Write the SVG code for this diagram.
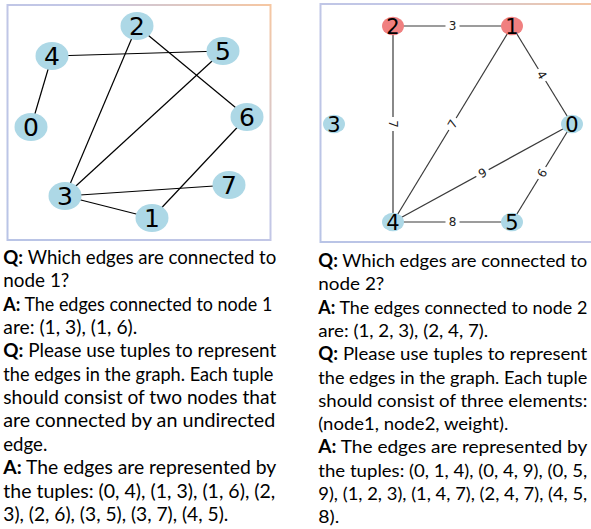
<svg xmlns="http://www.w3.org/2000/svg" width="591" height="529" viewBox="0 0 591 529">
<defs>
<linearGradient id="bl" gradientUnits="userSpaceOnUse" x1="7" y1="240" x2="270" y2="5">
<stop offset="0" stop-color="#b9c4e6"/><stop offset="0.6" stop-color="#c3c7e6"/><stop offset="1" stop-color="#f6c7a2"/>
</linearGradient>
<linearGradient id="br" gradientUnits="userSpaceOnUse" x1="320" y1="242" x2="600" y2="4">
<stop offset="0" stop-color="#b9c4e6"/><stop offset="0.6" stop-color="#c3c7e6"/><stop offset="1" stop-color="#f6c7a2"/>
</linearGradient>
<style>
.ledge{stroke:#000;stroke-width:1.2;fill:none}
.redge{stroke:#3a3a3a;stroke-width:1.2;fill:none}
.nb{fill:#add8e6}
.nr{fill:#f08080}
.ll{font-family:"DejaVu Sans",sans-serif;font-size:25px;text-anchor:middle;fill:#000}
.rl{font-family:"DejaVu Sans",sans-serif;font-size:21px;text-anchor:middle;fill:#000}
.el{font-family:"DejaVu Sans",sans-serif;font-size:12px;text-anchor:middle;fill:#222}
.eb{fill:#fff}
.tx{font-family:Lato,"Open Sans",sans-serif;font-size:19px;fill:#000}
.tr{font-size:18px}
.b{font-weight:bold}
</style>
</defs>
<rect x="0" y="0" width="591" height="529" fill="#fff"/>
<rect x="7.5" y="5" width="263" height="235" fill="none" stroke="url(#bl)" stroke-width="2"/>
<rect x="320.5" y="4" width="280" height="238" fill="none" stroke="url(#br)" stroke-width="2"/>
<g id="connectors">
<line class="ledge" x1="52" y1="56" x2="31" y2="127"/>
<line class="ledge" x1="52" y1="56" x2="223" y2="51"/>
<line class="ledge" x1="137" y1="26" x2="65" y2="196"/>
<line class="ledge" x1="137" y1="26" x2="247" y2="117"/>
<line class="ledge" x1="223" y1="51" x2="65" y2="196"/>
<line class="ledge" x1="247" y1="117" x2="152" y2="218"/>
<line class="ledge" x1="65" y1="196" x2="229" y2="185"/>
<line class="ledge" x1="65" y1="196" x2="152" y2="218"/>
<line class="redge" x1="393" y1="26" x2="512" y2="26"/>
<line class="redge" x1="512" y1="26" x2="572" y2="124"/>
<line class="redge" x1="393" y1="26" x2="393" y2="222"/>
<line class="redge" x1="512" y1="26" x2="393" y2="222"/>
<line class="redge" x1="572" y1="124" x2="393" y2="222"/>
<line class="redge" x1="572" y1="124" x2="512" y2="222"/>
<line class="redge" x1="393" y1="222" x2="512" y2="222"/>
<g transform="translate(452.5,26)"><rect class="eb" x="-7" y="-7" width="14" height="14"/><text class="el" x="0" y="4.3">3</text></g>
<g transform="translate(542,75) rotate(58.5)"><rect class="eb" x="-7" y="-7" width="14" height="14"/><text class="el" x="0" y="4.3">4</text></g>
<g transform="translate(393,124) rotate(90)"><rect class="eb" x="-7" y="-7" width="14" height="14"/><text class="el" x="0" y="4.3">7</text></g>
<g transform="translate(452.5,124) rotate(-59)"><rect class="eb" x="-7" y="-7" width="14" height="14"/><text class="el" x="0" y="4.3">7</text></g>
<g transform="translate(482.5,173) rotate(-28.7)"><rect class="eb" x="-7" y="-7" width="14" height="14"/><text class="el" x="0" y="4.3">9</text></g>
<g transform="translate(542,173) rotate(121)"><rect class="eb" x="-7" y="-7" width="14" height="14"/><text class="el" x="0" y="4.3">9</text></g>
<g transform="translate(452.5,222)"><rect class="eb" x="-7" y="-7" width="14" height="14"/><text class="el" x="0" y="4.3">8</text></g>
</g>
<g id="L0"><ellipse class="nb" cx="31" cy="127" rx="16.5" ry="14"/><text class="ll" x="31" y="136">0</text></g>
<g id="L1"><ellipse class="nb" cx="152" cy="218" rx="16.5" ry="14"/><text class="ll" x="152" y="227">1</text></g>
<g id="L2"><ellipse class="nb" cx="137" cy="26" rx="16.5" ry="14"/><text class="ll" x="137" y="35">2</text></g>
<g id="L3"><ellipse class="nb" cx="65" cy="196" rx="16.5" ry="14"/><text class="ll" x="65" y="205">3</text></g>
<g id="L4"><ellipse class="nb" cx="52" cy="56" rx="16.5" ry="14"/><text class="ll" x="52" y="65">4</text></g>
<g id="L5"><ellipse class="nb" cx="223" cy="51" rx="16.5" ry="14"/><text class="ll" x="223" y="60">5</text></g>
<g id="L6"><ellipse class="nb" cx="247" cy="117" rx="16.5" ry="14"/><text class="ll" x="247" y="126">6</text></g>
<g id="L7"><ellipse class="nb" cx="229" cy="185" rx="16.5" ry="14"/><text class="ll" x="229" y="194">7</text></g>
<g id="R0"><ellipse class="nb" cx="572" cy="124" rx="11" ry="9.3"/><text class="rl" x="572" y="131.6">0</text></g>
<g id="R1"><ellipse class="nr" cx="512" cy="26" rx="11" ry="9.3"/><text class="rl" x="512" y="33.6">1</text></g>
<g id="R2"><ellipse class="nr" cx="393" cy="26" rx="11" ry="9.3"/><text class="rl" x="393" y="33.6">2</text></g>
<g id="R3"><ellipse class="nb" cx="334" cy="124" rx="11" ry="9.3"/><text class="rl" x="334" y="131.6">3</text></g>
<g id="R4"><ellipse class="nb" cx="393" cy="222" rx="11" ry="9.3"/><text class="rl" x="393" y="229.6">4</text></g>
<g id="R5"><ellipse class="nb" cx="512" cy="222" rx="11" ry="9.3"/><text class="rl" x="512" y="229.6">5</text></g>
<g id="left-text" class="tx">
<text x="3.3" y="264" textLength="273" lengthAdjust="spacingAndGlyphs"><tspan class="b">Q:</tspan> Which edges are connected to</text>
<text x="3.3" y="287.35" textLength="66" lengthAdjust="spacingAndGlyphs">node 1?</text>
<text x="3.3" y="310.7" textLength="269" lengthAdjust="spacingAndGlyphs"><tspan class="b">A:</tspan> The edges connected to node 1</text>
<text x="3.3" y="334.05" textLength="134" lengthAdjust="spacingAndGlyphs">are: (1, 3), (1, 6).</text>
<text x="3.3" y="357.4" textLength="273" lengthAdjust="spacingAndGlyphs"><tspan class="b">Q:</tspan> Please use tuples to represent</text>
<text x="3.3" y="380.75" textLength="270" lengthAdjust="spacingAndGlyphs">the edges in the graph. Each tuple</text>
<text x="3.3" y="404.1" textLength="273" lengthAdjust="spacingAndGlyphs">should consist of two nodes that</text>
<text x="3.3" y="427.45" textLength="272" lengthAdjust="spacingAndGlyphs">are connected by an undirected</text>
<text x="3.3" y="450.8" textLength="44" lengthAdjust="spacingAndGlyphs">edge.</text>
<text x="3.3" y="474.15" textLength="273" lengthAdjust="spacingAndGlyphs"><tspan class="b">A:</tspan> The edges are represented by</text>
<text x="3.3" y="497.5" textLength="272" lengthAdjust="spacingAndGlyphs">the tuples: (0, 4), (1, 3), (1, 6), (2,</text>
<text x="3.3" y="520.85" textLength="225" lengthAdjust="spacingAndGlyphs">3), (2, 6), (3, 5), (3, 7), (4, 5).</text>
</g>
<g id="right-text" class="tx tr">
<text x="318.3" y="267" textLength="269" lengthAdjust="spacingAndGlyphs"><tspan class="b">Q:</tspan> Which edges are connected to</text>
<text x="318.3" y="290.3" textLength="66" lengthAdjust="spacingAndGlyphs">node 2?</text>
<text x="318.3" y="313.6" textLength="269" lengthAdjust="spacingAndGlyphs"><tspan class="b">A:</tspan> The edges connected to node 2</text>
<text x="318.3" y="336.9" textLength="170" lengthAdjust="spacingAndGlyphs">are: (1, 2, 3), (2, 4, 7).</text>
<text x="318.3" y="360.2" textLength="269" lengthAdjust="spacingAndGlyphs"><tspan class="b">Q:</tspan> Please use tuples to represent</text>
<text x="318.3" y="383.5" textLength="269" lengthAdjust="spacingAndGlyphs">the edges in the graph. Each tuple</text>
<text x="318.3" y="406.8" textLength="269" lengthAdjust="spacingAndGlyphs">should consist of three elements:</text>
<text x="318.3" y="430.1" textLength="190" lengthAdjust="spacingAndGlyphs">(node1, node2, weight).</text>
<text x="318.3" y="453.4" textLength="269" lengthAdjust="spacingAndGlyphs"><tspan class="b">A:</tspan> The edges are represented by</text>
<text x="318.3" y="476.7" textLength="269" lengthAdjust="spacingAndGlyphs">the tuples: (0, 1, 4), (0, 4, 9), (0, 5,</text>
<text x="318.3" y="500" textLength="269" lengthAdjust="spacingAndGlyphs">9), (1, 2, 3), (1, 4, 7), (2, 4, 7), (4, 5,</text>
<text x="318.3" y="523.3" textLength="21" lengthAdjust="spacingAndGlyphs">8).</text>
</g>
</svg>
